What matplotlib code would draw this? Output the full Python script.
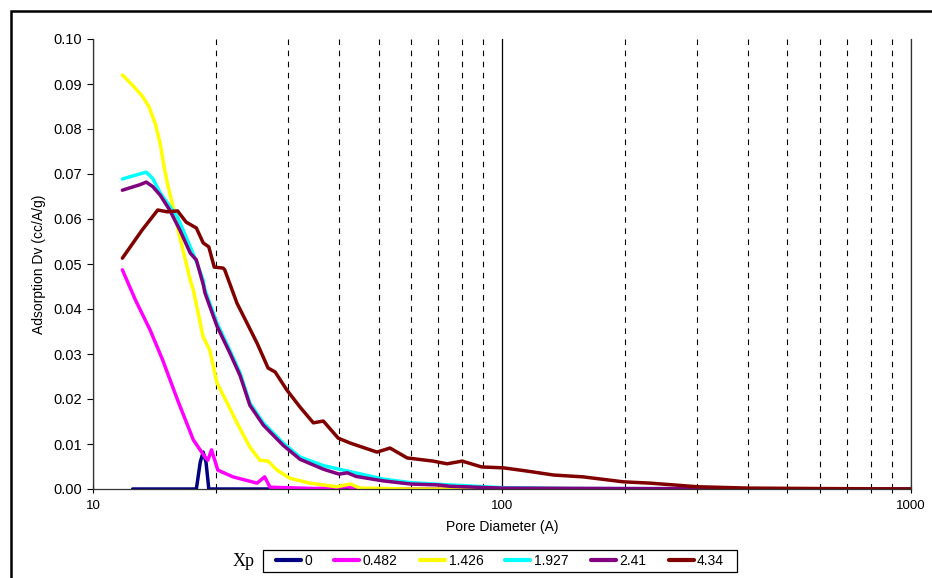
import matplotlib
matplotlib.use("Agg")
import matplotlib.pyplot as plt
from matplotlib.patches import Rectangle
from matplotlib.ticker import FixedLocator, FormatStrFormatter, NullFormatter

plt.rcParams['font.family'] = ['Liberation Sans', 'DejaVu Sans']

# Pore diameter (A) and adsorption Dv (cc/A/g)
d_0 = [12.5, 17.9, 18.3, 18.6, 18.9, 19.2, 1000]
v_0 = [0.0, 0.0, 0.006, 0.0082, 0.006, 0.0, 0.0]

d_0482 = [11.8, 12.7, 13.8, 14.8, 16.1, 17.6, 18.8, 19.1, 19.5, 20.2, 22.0, 25.2,
          26.3, 27.1, 35, 42.0, 44, 1000]
v_0482 = [0.0487, 0.042, 0.0353, 0.0287, 0.0198, 0.0109, 0.0071, 0.0064, 0.0087,
          0.0042, 0.0027, 0.0013, 0.0027, 0.0004, 0.0001, 0.0005, 0.0, 0.0]

d_1426 = [11.8, 12.5, 13.2, 13.7, 14.2, 14.6, 14.9, 15.2, 15.7, 16.3, 16.9, 17.3,
          17.6, 18.6, 19.3, 20.1, 21.3, 22.5, 24.2, 25.6, 26.8, 28.2, 30.3, 33.9,
          39.5, 42.6, 45, 60, 1000]
v_1426 = [0.092, 0.0897, 0.0873, 0.0850, 0.0812, 0.0768, 0.0720, 0.0680, 0.0627,
          0.056, 0.0502, 0.0464, 0.0442, 0.0338, 0.0309, 0.0236, 0.0191, 0.0147,
          0.0093, 0.0064, 0.0062, 0.0042, 0.0024, 0.0013, 0.0005, 0.0011, 0.0002,
          0.0, 0.0]

d_1927 = [11.8, 13.0, 13.5, 14.0, 14.6, 16.1, 17.3, 18.0, 18.6, 18.8, 20.1, 21.6,
          22.9, 24.2, 26.1, 29.2, 32.1, 36.6, 41.9, 51.3, 60, 74.8, 100, 150, 1000]
v_1927 = [0.0689, 0.0700, 0.0704, 0.0690, 0.0658, 0.0604, 0.0538, 0.0500, 0.0464,
          0.0442, 0.0369, 0.0309, 0.0258, 0.0191, 0.0147, 0.0102, 0.0071, 0.0052,
          0.0040, 0.0022, 0.0014, 0.0009, 0.0003, 0.0001, 0.0]

d_241 = [11.8, 13.0, 13.5, 14.0, 14.6, 15.4, 16.3, 17.3, 17.9, 18.6, 18.8, 20.1,
         21.6, 22.9, 24.2, 26.1, 29.2, 32.1, 36.6, 40, 41.9, 44, 51.3, 60, 70,
         74.8, 100, 200, 1000]
v_241 = [0.0664, 0.0676, 0.0682, 0.0672, 0.0653, 0.062, 0.0576, 0.0524, 0.0509,
         0.0455, 0.0435, 0.0362, 0.0303, 0.0252, 0.0186, 0.0142, 0.0097, 0.0066,
         0.0044, 0.0033, 0.0036, 0.0028, 0.0018, 0.0011, 0.0009, 0.0006, 0.0002,
         0.0001, 0.0]

d_434 = [11.8, 13.2, 14.4, 15.2, 16.1, 16.9, 17.9, 18.6, 19.2, 19.8, 20.8, 21.0,
         22.5, 23.8, 25.2, 26.1, 26.8, 27.9, 29.8, 32.1, 34.6, 36.6, 39.8, 42.6,
         49.5, 53.3, 58.7, 67.9, 73.5, 80, 89.3, 101, 115, 134, 158, 198, 231,
         301, 400, 600, 1000]
v_434 = [0.0513, 0.0576, 0.062, 0.0616, 0.0618, 0.0593, 0.058, 0.0547, 0.0538,
         0.0493, 0.0491, 0.0487, 0.0413, 0.0369, 0.0324, 0.0293, 0.0269, 0.026,
         0.022, 0.0182, 0.0147, 0.0151, 0.0113, 0.0102, 0.0082, 0.0091, 0.0069,
         0.0062, 0.0056, 0.0062, 0.0049, 0.0047, 0.004, 0.0031, 0.0027, 0.0016,
         0.0013, 0.0005, 0.0002, 0.0001, 0.0]

series = [
    ('0', d_0, v_0, '#000080'),
    ('0.482', d_0482, v_0482, '#FF00FF'),
    ('1.426', d_1426, v_1426, '#FFFF00'),
    ('1.927', d_1927, v_1927, '#00FFFF'),
    ('2.41', d_241, v_241, '#800080'),
    ('4.34', d_434, v_434, '#800000'),
]

fig = plt.figure(figsize=(9.32, 5.78), dpi=100)
ax = fig.add_axes([93 / 932, 89 / 578, (910.5 - 93) / 932, 450 / 578])

for label, d, v, color in series:
    ax.plot(d, v, color=color, linewidth=2.5, label=label,
            solid_joinstyle='round', solid_capstyle='round')

ax.set_xscale('log')
ax.set_xlim(10, 1000)
ax.set_ylim(0, 0.10)

ax.xaxis.set_major_locator(FixedLocator([10, 100, 1000]))
ax.xaxis.set_minor_locator(FixedLocator([20, 30, 40, 50, 60, 70, 80, 90,
                                         200, 300, 400, 500, 600, 700, 800, 900]))
ax.xaxis.set_minor_formatter(NullFormatter())
ax.set_xticklabels(['10', '100', '1000'])
ax.yaxis.set_major_locator(FixedLocator([i / 100 for i in range(11)]))
ax.yaxis.set_major_formatter(FormatStrFormatter('%.2f'))

ax.grid(True, axis='x', which='major', color='black', linewidth=0.9, linestyle='-')
ax.grid(True, axis='x', which='minor', color='black', linewidth=0.8,
        linestyle=(0, (5, 5)))
ax.set_axisbelow(True)

ax.spines['top'].set_visible(False)
for s in ['left', 'bottom', 'right']:
    ax.spines[s].set_linewidth(0.9)
    ax.spines[s].set_color('#333333')

ax.tick_params(axis='y', which='major', direction='out', length=4, width=0.8,
               labelsize=10.5, pad=4)
ax.tick_params(axis='x', which='major', direction='inout', length=6, width=0.8,
               labelsize=9.5, pad=5)
ax.tick_params(axis='x', which='minor', direction='out', length=3, width=0.8)

ax.set_xlabel('Pore Diameter (A)', fontsize=10, labelpad=6)
ax.set_ylabel('Adsorption Dv (cc/A/g)', fontsize=10, labelpad=5)

leg = fig.legend(loc='center', bbox_to_anchor=(500 / 932, 1 - 561 / 578), ncol=6,
                 fontsize=10, frameon=False, handlelength=1.8,
                 handletextpad=0.25, columnspacing=1.6, borderpad=0.3,
                 borderaxespad=0)
for h in leg.get_lines():
    h.set_linewidth(3)

# legend box, a bit wider than the entries as in the reference
fig.patches.append(Rectangle((263 / 932, 1 - 572 / 578), 474 / 932, 22 / 578,
                             fill=False, edgecolor='black', linewidth=0.9,
                             transform=fig.transFigure, figure=fig))

fig.text(244 / 932, 1 - 562 / 578, 'Xp', fontsize=13, family='Liberation Serif',
         ha='center', va='center')

# outer chart frame
fig.patches.append(Rectangle((11 / 932, -0.1), 1.2, 1.1 - 11 / 578, fill=False,
                             edgecolor='black', linewidth=1.8,
                             transform=fig.transFigure, figure=fig))

fig.savefig('out.png', dpi=100)
